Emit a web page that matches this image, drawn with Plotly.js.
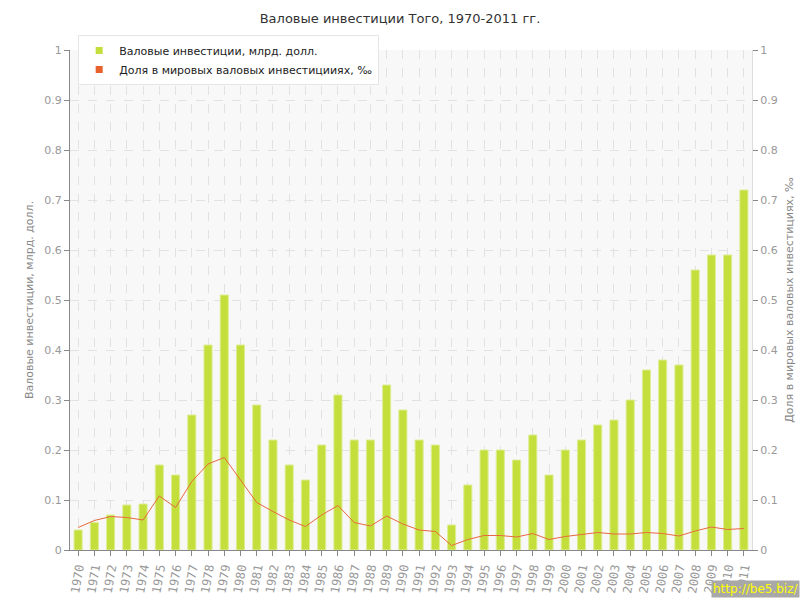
<!DOCTYPE html>
<html>
<head>
<meta charset="utf-8">
<script src="https://cdn.plot.ly/plotly-3.0.1.min.js"></script>
<style>html,body{margin:0;padding:0;background:#fff}#chart{width:800px;height:600px}</style>
</head>
<body>
<div id="chart"></div>
<script>
var years = ["1970","1971","1972","1973","1974","1975","1976","1977","1978","1979","1980","1981","1982","1983","1984","1985","1986","1987","1988","1989","1990","1991","1992","1993","1994","1995","1996","1997","1998","1999","2000","2001","2002","2003","2004","2005","2006","2007","2008","2009","2010","2011"];
var investments = [0.04,0.055,0.07,0.09,0.092,0.17,0.15,0.27,0.41,0.51,0.41,0.29,0.22,0.17,0.14,0.21,0.31,0.22,0.22,0.33,0.28,0.22,0.21,0.05,0.13,0.20,0.20,0.18,0.23,0.15,0.20,0.22,0.25,0.26,0.30,0.36,0.38,0.37,0.56,0.59,0.59,0.72];
var worldShare = [0.045,0.059,0.067,0.065,0.06,0.108,0.085,0.137,0.172,0.185,0.14,0.095,0.077,0.06,0.047,0.07,0.089,0.055,0.048,0.068,0.052,0.04,0.037,0.009,0.021,0.029,0.029,0.026,0.033,0.021,0.027,0.031,0.035,0.032,0.032,0.035,0.033,0.028,0.038,0.046,0.041,0.043];
var seriesNames = ["Валовые инвестиции, млрд. долл.", "Доля в мировых валовых инвестицииях, ‰"];
var titleText = "Валовые инвестиции Того, 1970-2011 гг.";
var yTitleLeft = "Валовые инвестиции, млрд. долл.";
var yTitleRight = "Доля в мировых валовых инвестициях, ‰";

var barColor = "#c4df3c";
var lineColor = "#e8693f";
var font = "DejaVu Sans, Verdana, sans-serif";

var traces = [
  {type:"bar", x:years, y:investments, width:0.5, showlegend:false,
   marker:{color:barColor, line:{color:"#dcee96", width:1}}, hoverinfo:"y"},
  {type:"scatter", mode:"lines", x:years, y:worldShare, yaxis:"y2", showlegend:false,
   line:{color:lineColor, width:1}},
  {type:"scatter", mode:"markers", x:[null], y:[null], name:seriesNames[0],
   marker:{symbol:"square", size:7, color:barColor}},
  {type:"scatter", mode:"markers", x:[null], y:[null], name:seriesNames[1], yaxis:"y2",
   marker:{symbol:"square", size:7, color:"#e8602c"}}
];

var gridCol = "#e2e2e2";
var layout = {
  width:800, height:600,
  margin:{l:70, r:48, t:50, b:50},
  paper_bgcolor:"#ffffff",
  plot_bgcolor:"#f8f8f8",
  font:{family:font, size:11, color:"#999"},
  title:{text:titleText, x:0.5, xanchor:"center", y:0.97, yanchor:"middle",
         font:{family:font, size:13, color:"#333"}},
  bargap:0.5,
  xaxis:{type:"category", tickangle:-80, ticks:"outside", ticklen:5, tickcolor:"#888",
         showline:true, linecolor:"#888", linewidth:1,
         showgrid:true, gridcolor:gridCol, griddash:"dash", gridwidth:1,
         tickfont:{family:"DejaVu Sans Mono, monospace", size:12, color:"#999"}, automargin:false},
  yaxis:{range:[0,1], dtick:0.1, ticks:"outside", ticklen:5, tickcolor:"#888",
         showline:true, linecolor:"#888", linewidth:1,
         showgrid:true, gridcolor:gridCol, griddash:"dash", zeroline:false,
         tickfont:{family:font, size:11, color:"#999"},
         title:{text:yTitleLeft, font:{family:font, size:11, color:"#888"}, standoff:8},
         automargin:false},
  yaxis2:{range:[0,1], dtick:0.1, overlaying:"y", side:"right", ticks:"outside", ticklen:5, tickcolor:"#888",
          showline:true, linecolor:"#ddd", linewidth:1, showgrid:false, zeroline:false,
          tickfont:{family:font, size:11, color:"#999"},
          title:{text:yTitleRight, font:{family:font, size:11, color:"#888"}, standoff:8},
          automargin:false},
  legend:{x:0.012, y:1.03, xanchor:"left", yanchor:"top", bgcolor:"#ffffff",
          bordercolor:"#e6e6e6", borderwidth:1,
          font:{family:font, size:11, color:"#222"}, itemwidth:30, tracegroupgap:0},
  annotations:[
    {text:"http://be5.biz/", xref:"paper", yref:"paper", x:1.07, y:-0.095, xanchor:"right", yanchor:"bottom",
     showarrow:false, bgcolor:"#a8a8a8", font:{family:font, size:12, color:"#ffff00"}, borderpad:1}
  ]
};

Plotly.newPlot("chart", traces, layout, {displayModeBar:false, staticPlot:true});
</script>
</body>
</html>
